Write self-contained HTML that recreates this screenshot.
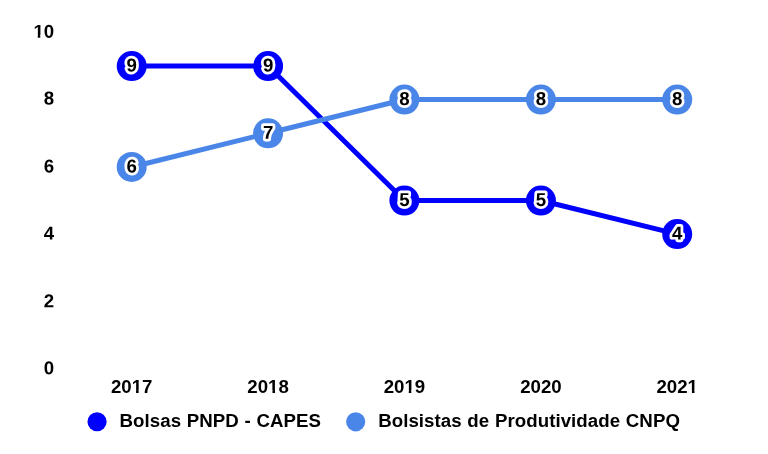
<!DOCTYPE html>
<html><head><meta charset="utf-8"><title>Chart</title>
<style>
html,body{margin:0;padding:0;background:#fff;}
body{width:768px;height:454px;overflow:hidden;}
svg{display:block;}
text{font-family:"Liberation Sans",Arial,sans-serif;font-weight:bold;font-size:18.67px;fill:#000;font-kerning:none;}
.lg{letter-spacing:0.06px;word-spacing:0.45px;}
.ann{stroke:#fff;stroke-width:5.4px;stroke-linejoin:round;paint-order:stroke fill;}
</style></head><body>
<svg width="768" height="454" viewBox="0 0 768 454">
<rect width="768" height="454" fill="#ffffff"/>

<text transform="translate(54.15,37.85) rotate(0.03)" text-anchor="end">10</text>
<text transform="translate(54.15,104.55) rotate(0.03)" text-anchor="end">8</text>
<text transform="translate(54.15,172.45) rotate(0.03)" text-anchor="end">6</text>
<text transform="translate(54.15,239.55) rotate(0.03)" text-anchor="end">4</text>
<text transform="translate(54.15,307.15) rotate(0.03)" text-anchor="end">2</text>
<text transform="translate(54.15,374.15) rotate(0.03)" text-anchor="end">0</text>
<text x="131.70" y="393" text-anchor="middle">2017</text>
<text x="268.10" y="393" text-anchor="middle">2018</text>
<text x="404.40" y="393" text-anchor="middle">2019</text>
<text x="540.90" y="393" text-anchor="middle">2020</text>
<text x="677.20" y="393" text-anchor="middle">2021</text>
<rect x="33.96" y="34.94" width="3.78" height="3.4" fill="#fff"/>
<rect x="40.30" y="34.94" width="3.54" height="3.4" fill="#fff"/>
<rect x="132.28" y="390.09" width="3.78" height="3.4" fill="#fff"/>
<rect x="138.62" y="390.09" width="3.54" height="3.4" fill="#fff"/>
<rect x="268.68" y="390.09" width="3.78" height="3.4" fill="#fff"/>
<rect x="275.02" y="390.09" width="3.54" height="3.4" fill="#fff"/>
<rect x="404.98" y="390.09" width="3.78" height="3.4" fill="#fff"/>
<rect x="411.32" y="390.09" width="3.54" height="3.4" fill="#fff"/>
<rect x="688.16" y="390.09" width="3.78" height="3.4" fill="#fff"/>
<rect x="694.50" y="390.09" width="3.54" height="3.4" fill="#fff"/>
<polyline points="131.70,66.05 268.10,66.05 404.40,200.53 540.90,200.53 677.20,234.10" fill="none" stroke="#0000ff" stroke-width="5" stroke-linejoin="round"/>
<circle cx="131.70" cy="66.05" r="15" fill="#0000ff"/>
<circle cx="268.10" cy="66.05" r="15" fill="#0000ff"/>
<circle cx="404.40" cy="200.53" r="15" fill="#0000ff"/>
<circle cx="540.90" cy="200.53" r="15" fill="#0000ff"/>
<circle cx="677.20" cy="234.10" r="15" fill="#0000ff"/>
<polyline points="131.70,166.95 268.10,133.30 404.40,99.55 540.90,99.55 677.20,99.55" fill="none" stroke="#4a86e8" stroke-width="5" stroke-linejoin="round"/>
<circle cx="131.70" cy="166.95" r="15" fill="#4a86e8"/>
<circle cx="268.10" cy="133.30" r="15" fill="#4a86e8"/>
<circle cx="404.40" cy="99.55" r="15" fill="#4a86e8"/>
<circle cx="540.90" cy="99.55" r="15" fill="#4a86e8"/>
<circle cx="677.20" cy="99.55" r="15" fill="#4a86e8"/>
<g transform="translate(131.70,71.55) rotate(0.03)"><ellipse cx="0" cy="-6.5" rx="2.2" ry="4.6" fill="#fff"/><text class="ann" x="0" y="0" text-anchor="middle">9</text></g>
<g transform="translate(268.10,71.55) rotate(0.03)"><ellipse cx="0" cy="-6.5" rx="2.2" ry="4.6" fill="#fff"/><text class="ann" x="0" y="0" text-anchor="middle">9</text></g>
<g transform="translate(404.40,206.03) rotate(0.03)"><ellipse cx="0" cy="-6.5" rx="2.2" ry="4.6" fill="#fff"/><text class="ann" x="0" y="0" text-anchor="middle">5</text></g>
<g transform="translate(540.90,206.03) rotate(0.03)"><ellipse cx="0" cy="-6.5" rx="2.2" ry="4.6" fill="#fff"/><text class="ann" x="0" y="0" text-anchor="middle">5</text></g>
<g transform="translate(677.20,239.60) rotate(0.03)"><circle cx="-0.8" cy="-6.2" r="1.8" fill="#fff"/><text class="ann" x="0" y="0" text-anchor="middle">4</text></g>
<g transform="translate(131.70,172.45) rotate(0.03)"><ellipse cx="0" cy="-6.5" rx="2.2" ry="4.6" fill="#fff"/><text class="ann" x="0" y="0" text-anchor="middle">6</text></g>
<g transform="translate(268.10,138.80) rotate(0.03)"><text class="ann" x="0" y="0" text-anchor="middle">7</text></g>
<g transform="translate(404.40,105.05) rotate(0.03)"><ellipse cx="0" cy="-6.5" rx="2.2" ry="4.6" fill="#fff"/><text class="ann" x="0" y="0" text-anchor="middle">8</text></g>
<g transform="translate(540.90,105.05) rotate(0.03)"><ellipse cx="0" cy="-6.5" rx="2.2" ry="4.6" fill="#fff"/><text class="ann" x="0" y="0" text-anchor="middle">8</text></g>
<g transform="translate(677.20,105.05) rotate(0.03)"><ellipse cx="0" cy="-6.5" rx="2.2" ry="4.6" fill="#fff"/><text class="ann" x="0" y="0" text-anchor="middle">8</text></g>
<circle cx="97.05" cy="421.75" r="9.6" fill="#0000ff"/>
<text class="lg" x="119.55" y="427">Bolsas PNPD - CAPES</text>
<circle cx="355.7" cy="421.8" r="9.6" fill="#4a86e8"/>
<text class="lg" x="378.2" y="427">Bolsistas de Produtividade CNPQ</text>
</svg></body></html>
